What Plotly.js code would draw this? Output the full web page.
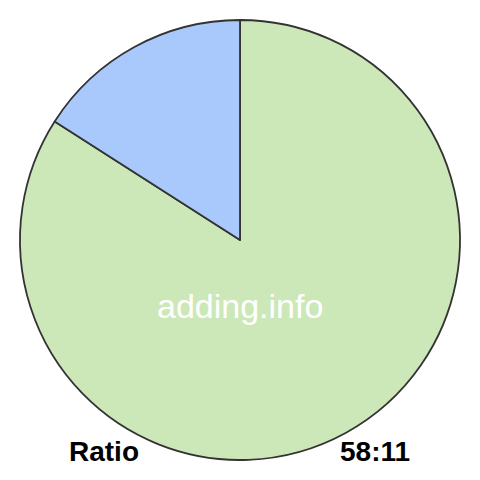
<!DOCTYPE html>
<html>
<head>
<meta charset="utf-8">
<script src="https://cdn.plot.ly/plotly-3.0.1.min.js"></script>
<style>
  html, body { margin: 0; padding: 0; background: #fff; }
  #chart { width: 480px; height: 480px; }
</style>
</head>
<body>
<div id="chart"></div>
<script>
const sliceLabels = ['58', '11'];
const sliceValues = [58, 11];
const sliceColors = ['#cde8b8', '#a9c8fb'];
const ratioLabel = 'Ratio';
const ratioText = '58:11';
const watermark = 'adding.info';

const W = 480, H = 480;
const px = x => x / W;
const py = y => 1 - y / H;

const pieTrace = {
    type: 'pie',
    labels: sliceLabels,
    values: sliceValues,
    sort: false,
    direction: 'clockwise',
    rotation: 0,
    textinfo: 'none',
    hoverinfo: 'none',
    showlegend: false,
    marker: { colors: sliceColors, line: { color: '#333', width: 1.8 } },
    domain: { x: [px(20), px(460)], y: [py(460), py(20)] },
};

const labelFont = { family: 'Liberation Sans, Arial, sans-serif', size: 28, color: '#000', weight: 'bold' };

const layout = {
    width: W,
    height: H,
    margin: { l: 0, r: 0, t: 0, b: 0 },
    paper_bgcolor: '#fff',
    annotations: [
        {
            text: watermark, xref: 'paper', yref: 'paper',
            x: px(240), y: py(306), xanchor: 'center', yanchor: 'middle',
            showarrow: false,
            font: { family: 'Liberation Sans, Arial, sans-serif', size: 34, color: '#fff' },
        },
        {
            text: '<b>' + ratioLabel + '</b>', xref: 'paper', yref: 'paper',
            x: px(104), y: py(451), xanchor: 'center', yanchor: 'middle',
            showarrow: false, font: labelFont,
        },
        {
            text: '<b>' + ratioText + '</b>', xref: 'paper', yref: 'paper',
            x: px(375), y: py(451), xanchor: 'center', yanchor: 'middle',
            showarrow: false, font: labelFont,
        },
    ],
};

Plotly.newPlot('chart', [pieTrace], layout, { staticPlot: true, displayModeBar: false });
</script>
</body>
</html>
